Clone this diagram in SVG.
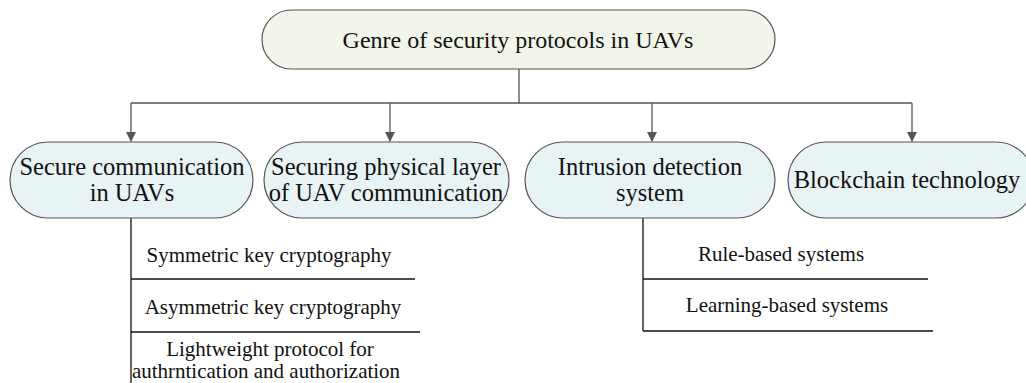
<svg xmlns="http://www.w3.org/2000/svg" width="1026" height="383" viewBox="0 0 1026 383">
<style>
.t,.n,.s{font-family:"Liberation Serif","Times New Roman",serif;fill:#111;text-anchor:middle}
.t{font-size:24px}
.n{font-size:24.5px}
.s{font-size:21px}
.top{fill:#f1f5ea;stroke:#555;stroke-width:1.2}
.box{fill:#e8f3f5;stroke:#555;stroke-width:1.2}
.c{stroke:#555;stroke-width:1.3;fill:none}
.l{stroke:#111;stroke-width:1.3;fill:none}
</style>
<defs>
<marker id="ah" markerWidth="10" markerHeight="10" refX="9" refY="5" orient="auto" markerUnits="userSpaceOnUse">
<path d="M0,0 L10,5 L0,10 Z" fill="#555"/>
</marker>
</defs>
<g id="connectors">
<path class="c" d="M519,69 V103 M131,103 H912"/>
<path class="c" d="M131,103 V141" marker-end="url(#ah)"/>
<path class="c" d="M390,103 V141" marker-end="url(#ah)"/>
<path class="c" d="M652,103 V141" marker-end="url(#ah)"/>
<path class="c" d="M912,103 V141" marker-end="url(#ah)"/>
<path class="l" d="M131,218 V383 M131,279 H415 M131,332 H420"/>
<path class="l" d="M643,218 V331 M643,279 H928 M643,331 H933"/>
</g>
<g id="root">
<rect class="top" x="262" y="10" width="513" height="59" rx="29.5"/>
<text class="t" x="518" y="48" font-family="Liberation Serif, serif">Genre of security protocols in UAVs</text>
</g>
<g id="n1">
<rect class="box" x="10" y="142" width="243" height="76" rx="38"/>
<text class="n" x="132" y="175" font-family="Liberation Serif, serif">Secure communication</text>
<text class="n" x="132" y="201" font-family="Liberation Serif, serif">in UAVs</text>
</g>
<g id="n2">
<rect class="box" x="264" y="142" width="245" height="76" rx="38"/>
<text class="n" x="386" y="175" font-family="Liberation Serif, serif">Securing physical layer</text>
<text class="n" x="386" y="201" font-family="Liberation Serif, serif">of UAV communication</text>
</g>
<g id="n3">
<rect class="box" x="525" y="142" width="250" height="76" rx="38"/>
<text class="n" x="650" y="175" font-family="Liberation Serif, serif">Intrusion detection</text>
<text class="n" x="650" y="201" font-family="Liberation Serif, serif">system</text>
</g>
<g id="n4">
<rect class="box" x="788" y="142" width="246" height="76" rx="38"/>
<text class="n" x="907" y="188" font-family="Liberation Serif, serif">Blockchain technology</text>
</g>
<g id="s1"><text class="s" x="269" y="262" font-family="Liberation Serif, serif">Symmetric key cryptography</text></g>
<g id="s2"><text class="s" x="273" y="314" font-family="Liberation Serif, serif">Asymmetric key cryptography</text></g>
<g id="s3">
<text class="s" x="270" y="356" font-family="Liberation Serif, serif">Lightweight protocol for</text>
<text class="s" x="266" y="378" font-family="Liberation Serif, serif">authrntication and authorization</text>
</g>
<g id="s4"><text class="s" x="781" y="261" font-family="Liberation Serif, serif">Rule-based systems</text></g>
<g id="s5"><text class="s" x="787" y="312" font-family="Liberation Serif, serif">Learning-based systems</text></g>
</svg>
